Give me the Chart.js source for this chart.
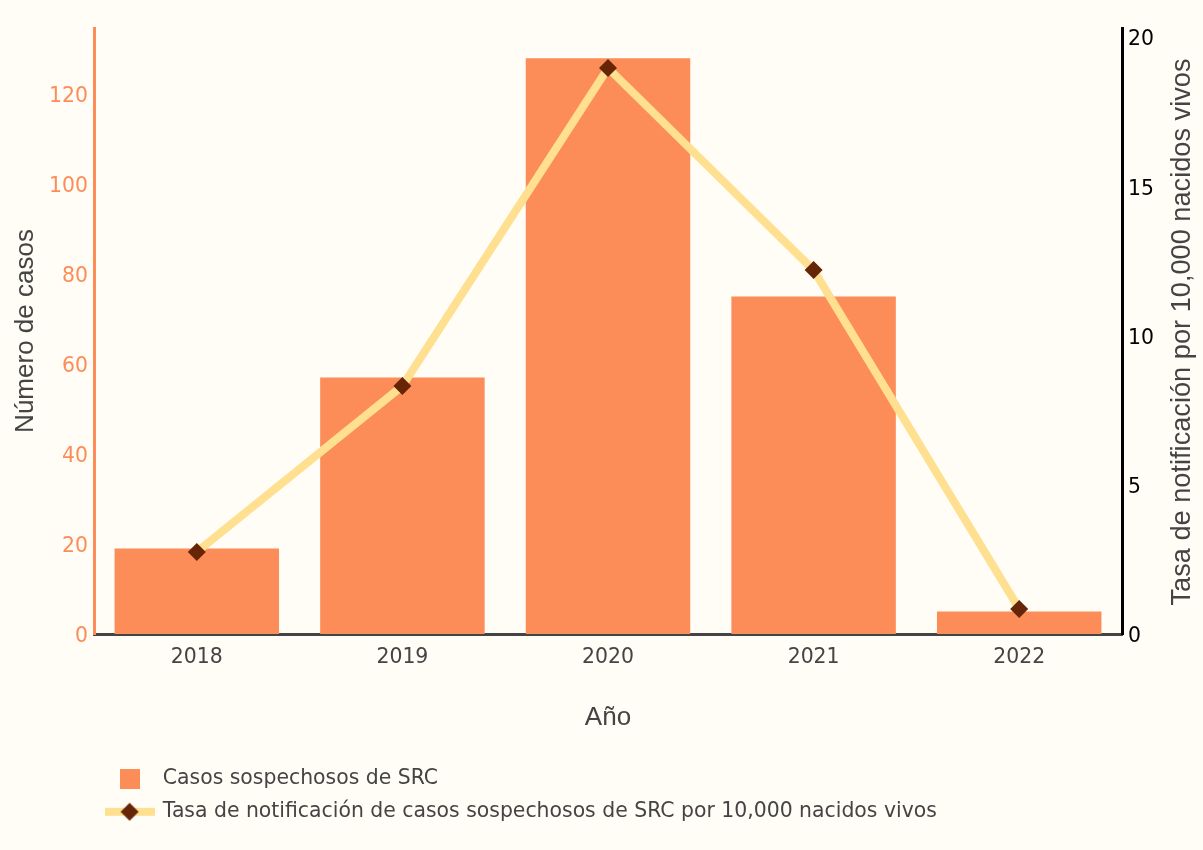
<!DOCTYPE html>
<html>
<head>
<meta charset="utf-8">
<script src="https://cdn.jsdelivr.net/npm/chart.js@4.4.0/dist/chart.umd.min.js"></script>
<style>
  html, body { margin: 0; padding: 0; background: #FFFDF5; }
  #wrap { position: relative; width: 1203px; height: 850px; }
</style>
</head>
<body>
<div id="wrap"><canvas id="c" width="1203" height="850"></canvas></div>
<script>
const years = ['2018', '2019', '2020', '2021', '2022'];
const casos = [19, 57, 128, 75, 5];
const tasa = [2.75, 8.31, 18.96, 12.19, 0.84];
const casosLabel = 'Casos sospechosos de SRC';
const tasaLabel = 'Tasa de notificación de casos sospechosos de SRC por 10,000 nacidos vivos';
const yTitle = 'Número de casos';
const y1Title = 'Tasa de notificación por 10,000 nacidos vivos';
const xTitle = 'Año';

const FONT = "'DejaVu Sans', Verdana, sans-serif";
const TFONT = "'Liberation Sans', Arial, sans-serif";
const BAR = '#FC8D59', LINE = '#FEE090', MARK = '#662506', TXT = '#444444';

function squareIcon() {
  const c = document.createElement('canvas'); c.width = 20; c.height = 20;
  const x = c.getContext('2d'); x.fillStyle = BAR; x.fillRect(0, 0, 20, 20); return c;
}
function lineIcon() {
  const c = document.createElement('canvas'); c.width = 50; c.height = 20;
  const x = c.getContext('2d');
  x.strokeStyle = LINE; x.lineWidth = 8; x.beginPath(); x.moveTo(0, 10); x.lineTo(50, 10); x.stroke();
  x.fillStyle = MARK; x.beginPath(); x.moveTo(25, 1); x.lineTo(34, 10); x.lineTo(25, 19); x.lineTo(16, 10); x.closePath(); x.fill();
  return c;
}
const icons = [squareIcon(), lineIcon()];

const rightTitle = {
  id: 'rightTitle',
  afterDraw(chart) {
    const ctx = chart.ctx, a = chart.chartArea;
    ctx.save();
    ctx.translate(1183, (a.top + a.bottom) / 2 + 1);
    ctx.rotate(-Math.PI / 2);
    ctx.font = '27.2px ' + TFONT;
    ctx.fillStyle = TXT; ctx.textAlign = 'center'; ctx.textBaseline = 'middle';
    ctx.fillText(y1Title, 0, 0);
    ctx.restore();
  }
};
const bg = {
  id: 'bg',
  beforeDraw(chart) {
    const ctx = chart.ctx; ctx.save(); ctx.fillStyle = '#FFFDF5';
    ctx.fillRect(0, 0, chart.width, chart.height); ctx.restore();
  }
};

new Chart(document.getElementById('c'), {
  data: {
    labels: years,
    datasets: [
      { type: 'bar', label: casosLabel, data: casos, backgroundColor: BAR, yAxisID: 'y',
        categoryPercentage: 0.8, barPercentage: 1.0, order: 2 },
      { type: 'line', label: tasaLabel, data: tasa, yAxisID: 'y1', borderColor: LINE, borderWidth: 8,
        pointStyle: 'rectRot', pointRadius: 9, pointHoverRadius: 9, pointBackgroundColor: MARK,
        pointBorderColor: MARK, pointBorderWidth: 0, tension: 0, order: 1 }
    ]
  },
  options: {
    responsive: false, animation: false,
    layout: { padding: { top: 28, left: 0, right: 0, bottom: 18 } },
    plugins: {
      tooltip: { enabled: false },
      legend: {
        position: 'bottom', align: 'start', fullSize: false,
        labels: {
          usePointStyle: true, pointStyleWidth: 46, padding: 12.6, color: TXT,
          font: { family: FONT, size: 20.4 },
          sort: (a, b) => a.datasetIndex - b.datasetIndex,
          generateLabels: (chart) => chart.data.datasets.map((d, i) => ({
            text: d.label, datasetIndex: i, pointStyle: icons[i], fillStyle: BAR,
            strokeStyle: BAR, lineWidth: 0, hidden: false, fontColor: TXT
          }))
        }
      }
    },
    scales: {
      x: {
        grid: { display: false, drawTicks: false },
        border: { display: true, color: TXT, width: 3 },
        ticks: { color: TXT, font: { family: FONT, size: 20.4 }, padding: 11 },
        title: { display: true, text: xTitle, color: TXT, font: { family: TFONT, size: 26 }, padding: { top: 0, bottom: 23 } },
        afterFit: (s) => { s.height = 122; }
      },
      y: {
        position: 'left', min: 0, max: 134.7,
        grid: { display: false, drawTicks: false },
        border: { display: true, color: BAR, width: 3 },
        ticks: { stepSize: 20, color: BAR, font: { family: FONT, size: 20.4 }, padding: 6, labelOffset: 3, includeBounds: false },
        afterBuildTicks: (s) => { s.ticks = s.ticks.filter(t => t.value % 20 === 0); },
        title: { display: true, text: yTitle, color: TXT, font: { family: TFONT, size: 26 }, padding: { top: 10, bottom: 0 } },
        afterFit: (s) => { s.width = 94; }
      },
      y1: {
        position: 'right', min: 0, max: 20.3,
        grid: { display: false, drawTicks: false },
        border: { display: true, color: '#000000', width: 3 },
        ticks: { stepSize: 5, color: '#000000', font: { family: FONT, size: 20.4 }, padding: 6, labelOffset: 3, includeBounds: false },
        afterBuildTicks: (s) => { s.ticks = s.ticks.filter(t => t.value % 5 === 0); },
        afterFit: (s) => { s.width = 81; }
      }
    }
  },
  plugins: [bg, rightTitle]
});
</script>
</body>
</html>
